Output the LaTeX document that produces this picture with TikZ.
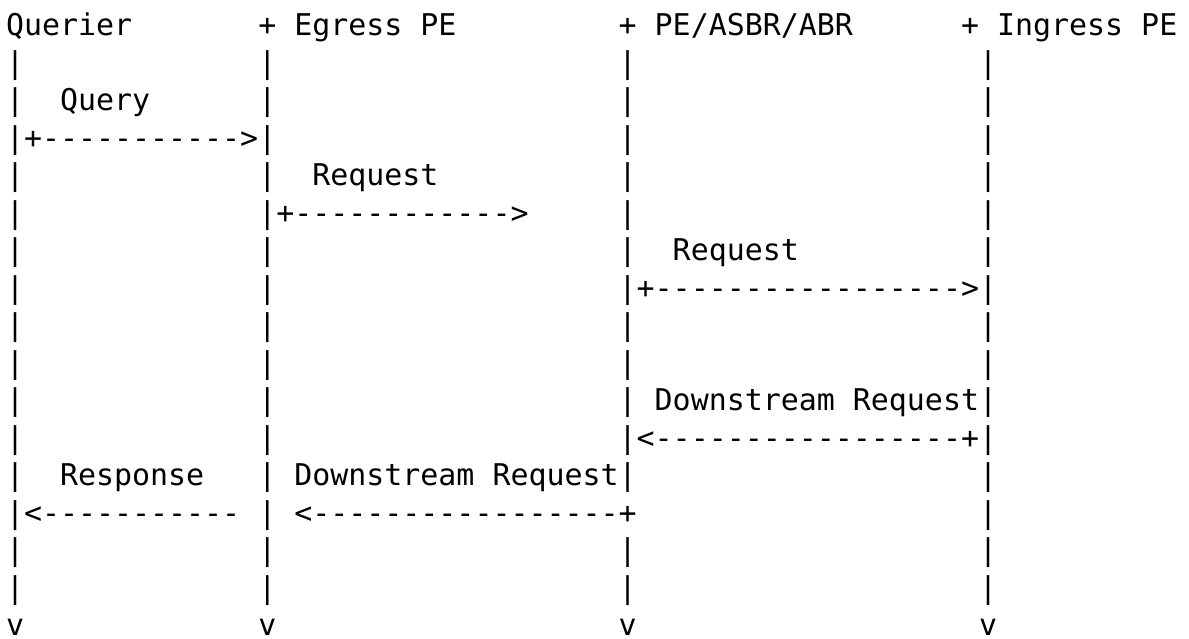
\documentclass[tikz,border=0pt]{standalone}
\usepackage{fontspec}
\setmonofont{DejaVu Sans Mono}
\tikzset{
  asc/.style={inner sep=0pt, outer sep=0pt, anchor=base west,
    font=\ttfamily\fontsize{29.93}{37.5}\selectfont, text=black}
}
% column c, row r -> position of the character's left edge on its baseline
\newcommand\asctxt[4]{\node[asc] (#1) at ({6+18.02*#2},{37.5*#3-2}) {#4};}
\begin{document}
\begin{tikzpicture}[x=1pt,y=-1pt]
\useasboundingbox (0,0) rectangle (1189,638);
% header
\asctxt{querier}{0}{1}{Querier}
\asctxt{egress}{14}{1}{+ Egress PE}
\asctxt{asbr}{34}{1}{+ PE/ASBR/ABR}
\asctxt{ingress}{53}{1}{+ Ingress PE}
% lifelines
\foreach \r in {2,...,16} {
  \asctxt{la\r}{0}{\r}{|}
  \asctxt{lb\r}{14}{\r}{|}
  \asctxt{ld\r}{54}{\r}{|}
}
\foreach \r in {2,...,13,15,16} {
  \asctxt{lc\r}{34}{\r}{|}
}
% ends
\asctxt{va}{0}{17}{v}
\asctxt{vb}{14}{17}{v}
\asctxt{vc}{34}{17}{v}
\asctxt{vd}{54}{17}{v}
% messages
\asctxt{query}{3}{3}{Query}
\asctxt{m1}{1}{4}{+----------->}
\asctxt{req1}{17}{5}{Request}
\asctxt{m2}{15}{6}{+------------>}
\asctxt{req2}{37}{7}{Request}
\asctxt{m3}{35}{8}{+----------------->}
\asctxt{dreq1}{36}{11}{Downstream Request}
\asctxt{m4}{35}{12}{<-----------------+}
\asctxt{resp}{3}{13}{Response}
\asctxt{dreq2}{16}{13}{Downstream Request}
\asctxt{m5}{1}{14}{<-----------}
\asctxt{m6}{16}{14}{<-----------------+}
\end{tikzpicture}
\end{document}
